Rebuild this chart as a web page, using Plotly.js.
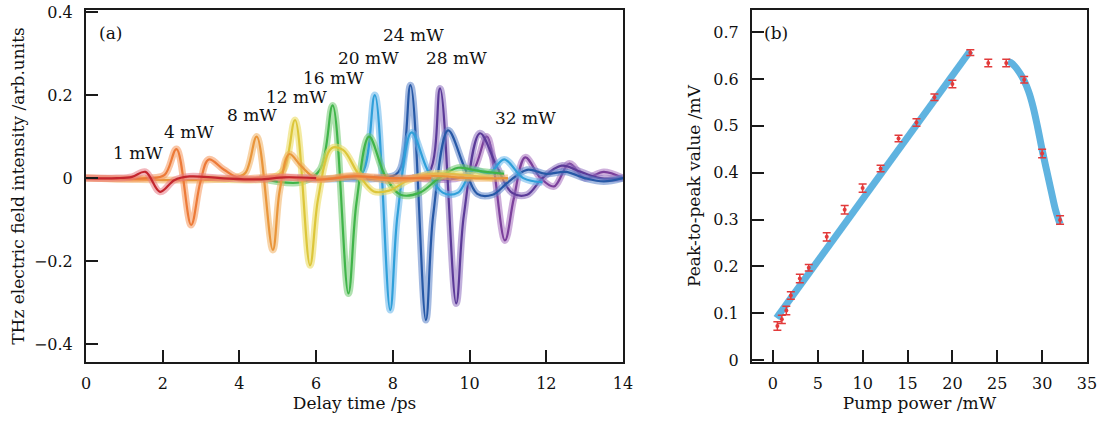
<!DOCTYPE html>
<html>
<head>
<meta charset="utf-8">
<script src="https://cdn.plot.ly/plotly-3.0.1.min.js"></script>
<style>html,body{margin:0;padding:0;background:#fff;}#chart{width:1103px;height:423px;}</style>
</head>
<body>
<div id="chart"></div>
<script>
// ---------- Panel (a): THz waveforms (delay time in ps, field in arb. units) ----------
const labels = ["1 mW","4 mW","8 mW","12 mW","16 mW","20 mW","24 mW","28 mW","32 mW"];

const t1  = [0, 0.8, 1.2, 1.55, 1.93, 2.3, 2.7, 3.5, 4.5, 5.2, 6.0];
const y1  = [0, 0, 0.003, 0.015, -0.033, -0.005, 0.004, 0, -0.003, 0.002, 0];

const t4  = [0, 1.6, 2.05, 2.36, 2.74, 2.98, 3.2, 3.6, 4.0, 5.0, 6.0, 7.0, 8.0, 9.0];
const y4  = [0, 0, 0.008, 0.07, -0.113, -0.01, 0.045, 0.02, 0, 0.004, -0.004, 0.004, 0, 0];

const t8  = [0, 3.8, 4.15, 4.45, 4.87, 5.05, 5.3, 5.6, 6.0, 7.0, 8.0, 9.0, 10.0, 11.0];
const y8  = [0, 0, 0.012, 0.1, -0.173, -0.03, 0.058, 0.03, 0, 0.006, -0.006, 0.005, 0, 0];

const t12 = [3.0, 4.8, 5.15, 5.45, 5.84, 6.05, 6.4, 6.7, 7.1, 7.5, 7.9, 8.4, 9.0, 9.8, 10.6];
const y12 = [0, 0, 0.02, 0.14, -0.21, -0.05, 0.072, 0.068, 0.01, -0.032, -0.03, -0.005, 0.01, 0.008, 0];

const t16 = [4.5, 5.6, 6.1, 6.43, 6.84, 7.05, 7.38, 7.8, 8.2, 8.7, 9.2, 9.7, 10.2, 10.9];
const y16 = [0, -0.01, 0.02, 0.175, -0.278, -0.06, 0.1, 0.005, -0.04, -0.035, 0.0, 0.025, 0.018, 0.01];

const t20 = [5.5, 6.8, 7.2, 7.53, 7.93, 8.12, 8.49, 8.9, 9.3, 9.7, 10.1, 10.5, 10.9, 11.4, 11.9];
const y20 = [0, 0, 0.012, 0.2, -0.318, -0.09, 0.11, 0.02, -0.035, -0.035, 0.02, 0.01, 0.045, 0.0, -0.01];

const t24 = [6.5, 7.7, 8.15, 8.46, 8.86, 9.05, 9.44, 9.85, 10.2, 10.6, 11.0, 11.5, 12.0, 12.5, 13.0, 13.5, 14.0];
const y24 = [0, 0, 0.015, 0.224, -0.342, -0.09, 0.115, 0.03, -0.038, -0.04, -0.01, 0.02, 0.01, 0.015, 0.0, -0.008, 0];

const t28 = [7.5, 8.5, 8.95, 9.23, 9.65, 9.85, 10.27, 10.7, 11.1, 11.5, 11.9, 12.4, 12.9, 13.4, 14.0];
const y28 = [0, 0, 0.015, 0.216, -0.302, -0.09, 0.108, 0.03, -0.035, -0.04, 0.0, 0.03, 0.015, 0.0, 0.0];

const t32 = [8.5, 9.7, 10.1, 10.45, 10.92, 11.15, 11.45, 11.85, 12.2, 12.6, 13.0, 13.5, 14.0];
const y32 = [0, 0, 0.02, 0.1, -0.15, -0.05, 0.05, 0.0, -0.02, 0.035, 0.0, 0.015, 0.0];

const tAll = [t1, t4, t8, t12, t16, t20, t24, t28, t32];
const yAll = [y1, y4, y8, y12, y16, y20, y24, y28, y32];

const lineColors = ["#c4262e", "#ec7a38", "#e9953a", "#dcc63a", "#3fb449", "#2f9fd9", "#2658a6", "#5b3a98", "#7b3f9b"];
const bandColors = ["rgba(232,120,130,0.55)", "rgba(245,150,90,0.55)", "rgba(240,175,95,0.55)", "rgba(235,220,100,0.6)", "rgba(110,200,110,0.55)", "rgba(100,180,235,0.55)", "rgba(90,130,200,0.55)", "rgba(140,110,190,0.55)", "rgba(165,110,190,0.55)"];

// ---------- Panel (b): peak-to-peak vs pump power ----------
const power = [0.5, 1, 1.5, 2, 3, 4, 6, 8, 10, 12, 14, 16, 18, 20, 22, 24, 26, 28, 30, 32];
const peak  = [0.073, 0.087, 0.106, 0.138, 0.174, 0.197, 0.263, 0.321, 0.367, 0.409, 0.473, 0.507, 0.561, 0.589, 0.656, 0.634, 0.634, 0.598, 0.441, 0.299];
const errP  = [0.009, 0.009, 0.009, 0.008, 0.009, 0.007, 0.009, 0.009, 0.009, 0.007, 0.007, 0.008, 0.007, 0.008, 0.006, 0.008, 0.008, 0.007, 0.009, 0.009];

const fitLinX = [0.4, 22];
const fitLinY = [0.09, 0.66];
const fitCurX = [26.2, 26.5, 27, 27.5, 28, 28.5, 29, 29.5, 30, 30.5, 31, 31.5, 32];
const fitCurY = [0.637, 0.635, 0.626, 0.613, 0.596, 0.573, 0.54, 0.497, 0.449, 0.405, 0.362, 0.32, 0.29];

const traces = [];
for (let i = tAll.length - 1; i >= 0; i--) {
  traces.push({x: tAll[i], y: yAll[i], type: "scatter", mode: "lines", xaxis: "x", yaxis: "y",
    line: {color: bandColors[i], width: 7, shape: "spline", smoothing: 1}, hoverinfo: "skip", showlegend: false});
  traces.push({x: tAll[i], y: yAll[i], type: "scatter", mode: "lines", xaxis: "x", yaxis: "y", name: labels[i],
    line: {color: lineColors[i], width: 2.2, shape: "spline", smoothing: 1}, showlegend: false});
}
traces.push({x: fitLinX, y: fitLinY, type: "scatter", mode: "lines", xaxis: "x2", yaxis: "y2",
  line: {color: "#5fb3e0", width: 7}, showlegend: false});
traces.push({x: fitCurX, y: fitCurY, type: "scatter", mode: "lines", xaxis: "x2", yaxis: "y2",
  line: {color: "#5fb3e0", width: 7, shape: "spline"}, showlegend: false});
traces.push({x: power, y: peak, type: "scatter", mode: "markers", xaxis: "x2", yaxis: "y2",
  marker: {color: "#e23b3b", size: 4},
  error_y: {type: "data", array: errP, visible: true, color: "#e23b3b", thickness: 1.5, width: 4},
  showlegend: false});

// text annotations on panel (a)
const labelX = [1.35, 2.68, 4.33, 5.5, 6.45, 7.37, 8.53, 9.65, 11.45];
const labelY = [0.06, 0.11, 0.151, 0.195, 0.241, 0.29, 0.344, 0.289, 0.145];

const serif = "DejaVu Serif, serif";
const annotations = labels.map((s, i) => ({x: labelX[i], y: labelY[i], xref: "x", yref: "y", text: s,
  showarrow: false, font: {family: serif, size: 17, color: "#111"}}));
annotations.push({x: 0.63, y: 0.35, xref: "x", yref: "y", text: "(a)", showarrow: false, xanchor: "center",
  font: {family: serif, size: 17, color: "#111"}});
annotations.push({x: 0.3, y: 0.698, xref: "x2", yref: "y2", text: "(b)", showarrow: false, xanchor: "center",
  font: {family: serif, size: 17, color: "#111"}});

const axBase = {showline: true, linecolor: "#1a1a1a", linewidth: 2, mirror: true, ticks: "inside", ticklen: 12,
  tickwidth: 2, tickcolor: "#1a1a1a", showgrid: false, zeroline: false,
  tickfont: {family: serif, size: 16, color: "#111"}};

const layout = {
  width: 1103, height: 423,
  margin: {l: 86, r: 16, t: 10, b: 61},
  paper_bgcolor: "#fff", plot_bgcolor: "#fff",
  showlegend: false,
  xaxis: Object.assign({}, axBase, {domain: [0, 0.5365], range: [0, 14], tickvals: [0,2,4,6,8,10,12,14],
    ticklabelstandoff: 6,
    title: {text: "Delay time /ps", font: {family: serif, size: 17, color: "#111"}, standoff: 4}}),
  yaxis: Object.assign({}, axBase, {range: [-0.443, 0.405], tickvals: [-0.4,-0.2,0,0.2,0.4],
    ticktext: ["\u22120.4","\u22120.2","0","0.2","0.4"], ticklabelstandoff: 8,
    title: {text: "THz electric field intensity /arb.units", font: {family: serif, size: 17, color: "#111"}, standoff: 5}}),
  xaxis2: Object.assign({}, axBase, {domain: [0.6653, 1], range: [-2.33, 35], tickvals: [0,5,10,15,20,25,30,35],
    anchor: "y2", ticklabelstandoff: 6,
    title: {text: "Pump power /mW", font: {family: serif, size: 17, color: "#111"}, standoff: 4}}),
  yaxis2: Object.assign({}, axBase, {range: [-0.004, 0.747], tickvals: [0,0.1,0.2,0.3,0.4,0.5,0.6,0.7],
    anchor: "x2", ticklabelstandoff: 8,
    title: {text: "Peak-to-peak value /mV", font: {family: serif, size: 17, color: "#111"}, standoff: 8}}),
  annotations: annotations
};

Plotly.newPlot("chart", traces, layout, {displayModeBar: false, staticPlot: true});
</script>
</body>
</html>
